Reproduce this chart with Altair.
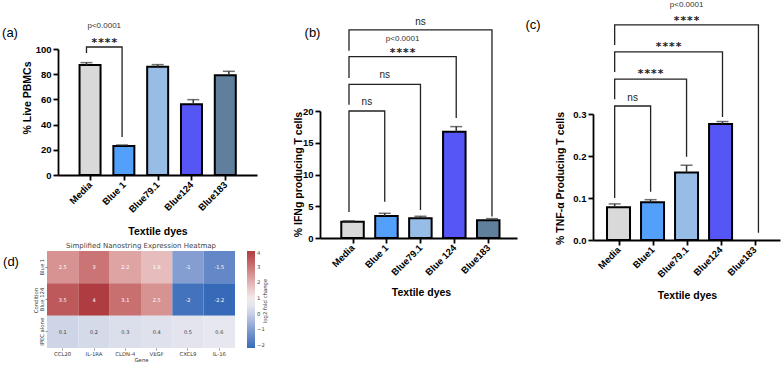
import json
import altair as alt
import pandas as pd

SANS = "Liberation Sans"
MONO = "DejaVu Sans Mono"
HEAT_FONT = "DejaVu Sans"
CANVAS_W, CANVAS_H = 784, 365

# ---------------- data ----------------
bar_colors = ["#d9d9d9", "#52a0fa", "#97bde6", "#5656f6", "#5f7f9c"]

# (a) viability
dyes_a = ["Media", "Blue 1", "Blue79.1", "Blue124", "Blue183"]
live_mean = [87.3, 23.0, 86.0, 56.1, 79.1]
live_sem = [1.9, 0.9, 1.6, 3.7, 3.2]
cmp_a_target = [1]
cmp_a_label = ["****"]
cmp_a_top = [101.6]
cmp_a_left_end = [96.8]
cmp_a_right_end = [30.2]
cmp_a_label_y = [107.1]
pval_a = ("p<0.0001", 0, 118.3)

# (b) IFNg
dyes_b = ["Media", "Blue 1", "Blue79.1", "Blue 124", "Blue183"]
ifng_mean = [2.57, 3.46, 3.12, 16.74, 2.8]
ifng_sem = [0.12, 0.43, 0.30, 0.80, 0.25]
cmp_b_target = [1, 2, 3, 4]
cmp_b_label = ["ns", "ns", "****", "ns"]
cmp_b_top = [20.0, 24.2, 28.55, 32.76]
cmp_b_left_end = [4.1, 21.0, 25.2, 29.5]
cmp_b_right_end = [5.7, 4.4, 18.9, 3.4]
cmp_b_label_y = [21.4, 25.7, 29.6, 34.0]
pval_b = ("p<0.0001", 2, 31.3)

# (c) TNF-alpha
dyes_c = ["Media", "Blue1", "Blue79.1", "Blue124", "Blue183"]
tnf_mean = [0.078, 0.090, 0.161, 0.276, None]
tnf_sem = [0.008, 0.006, 0.017, 0.006, None]
cmp_c_target = [1, 2, 3, 4]
cmp_c_label = ["ns", "****", "****", "****"]
cmp_c_top = [0.319, 0.383, 0.448, 0.512]
cmp_c_left_end = [0.10, 0.335, 0.40, 0.464]
cmp_c_right_end = [0.115, 0.198, 0.293, 0.017]
cmp_c_label_y = [0.338, 0.402, 0.467, 0.529]
pval_c = ("p<0.0001", 3, 0.5595)

# (d) Nanostring log2 fold changes
genes = ["CCL20", "IL-1RA", "CLDN-4", "VEGF", "CXCL9", "IL-16"]
conditions = ["Blue 1", "Blue 124", "IPEC alone"]
fc_blue1 = [2.5, 3, 2.2, 1.8, -1, -1.5]
fc_blue124 = [3.5, 4, 3.1, 2.5, -2, -2.2]
fc_ipec = [0.1, 0.2, 0.3, 0.4, 0.5, 0.6]

heat_stops = [-2.2, -0.96, 0.28, 0.9, 1.52, 2.76, 4.0]
heat_colors = ["#366ab8", "#87a0d2", "#dadeeb", "#f2f0f2", "#eccdcd", "#d28282", "#af3c41"]

# ---------------- styling ----------------
AXIS_STYLE = dict(
    grid=False, domainColor="black", domainWidth=1.8, tickColor="black",
    tickWidth=1.8, tickSize=5, labelFont=SANS, labelFontSize=9.5,
    labelFontWeight="bold", labelColor="black", titleFont=SANS,
    titleFontSize=10.5, titleFontWeight="bold", titleColor="black",
)


def x_axis(names, axis_y, title_x, title_y):
    return alt.Axis(
        orient="bottom", offset=axis_y - CANVAS_H, values=list(range(len(names))),
        labelExpr=f"{json.dumps(names)}[datum.value]", labelAngle=-45,
        labelAlign="right", labelBaseline="middle", labelPadding=3,
        labelOverlap=False, labelFlush=False, title="Textile dyes",
        titleX=title_x, titleY=title_y - axis_y, titleAlign="center",
        titleBaseline="middle", titleAngle=0, **AXIS_STYLE,
    )


def y_axis(axis_x, values, fmt, title, title_x, title_y):
    return alt.Axis(
        orient="left", offset=-axis_x, values=values, format=fmt,
        labelPadding=2, labelOverlap=False, title=title,
        titleX=title_x - axis_x, titleY=title_y, titleAngle=270,
        titleAlign="center", titleBaseline="middle", **AXIS_STYLE,
    )


def bar_panel(names, means, sems, cmp, pval, xdom, xrng, ydom, yrng,
              yvals, yfmt, ytitle, ytitle_xy, xtitle_xy, bar_w):
    targets, labels, tops, left_ends, right_ends, label_ys = cmp
    df = pd.DataFrame({
        "pos": list(range(len(names))), "mean": means, "sem": sems,
        "color": bar_colors,
    })
    df["top"] = df["mean"] + df["sem"]

    rows = []
    for k, (t, top, le, re) in enumerate(zip(targets, tops, left_ends, right_ends)):
        for j, (p, v) in enumerate([(0, le), (0, top), (t, top), (t, re)]):
            rows.append({"b": k, "o": j, "pos": p, "val": v})
    br = pd.DataFrame(rows)

    lab = pd.DataFrame({
        "pos": [t / 2 for t in targets], "val": label_ys, "label": labels,
    })
    pv = pd.DataFrame({
        "pos": [targets[pval[1]] / 2], "val": [pval[2]], "label": [pval[0]],
    })

    xs = alt.Scale(domain=xdom, range=xrng, nice=False, zero=False)
    ys = alt.Scale(domain=ydom, range=yrng, nice=False, zero=False)

    def X():
        return alt.X("pos:Q", scale=xs, axis=None)

    def Y(f):
        return alt.Y(f"{f}:Q", scale=ys, axis=None)

    bars = alt.Chart(df).mark_bar(width=bar_w, stroke="black", strokeWidth=2).encode(
        x=alt.X("pos:Q", scale=xs, axis=x_axis(names, yrng[0], *xtitle_xy)),
        y=alt.Y("mean:Q", scale=ys, axis=y_axis(xrng[0], yvals, yfmt, ytitle, *ytitle_xy)),
        fill=alt.Fill("color:N", scale=None),
    )
    errs = alt.Chart(df).mark_rule(color="#333", strokeWidth=1.5).encode(
        x=X(), y=Y("mean"), y2="top:Q")
    caps = alt.Chart(df).mark_tick(orient="horizontal", size=12, thickness=1.5,
                                   color="#333").encode(x=X(), y=Y("top"))
    lines = alt.Chart(br).mark_line(color="#222", strokeWidth=1.3).encode(
        x=X(), y=Y("val"), detail="b:N", order="o:Q")
    stars = alt.Chart(lab).transform_filter(alt.datum.label == "****").mark_text(
        font=MONO, fontWeight="bold", fontSize=11, baseline="middle", dy=3,
        color="#222").encode(x=X(), y=Y("val"), text="label:N")
    ns = alt.Chart(lab).transform_filter(alt.datum.label == "ns").mark_text(
        font=SANS, fontSize=10, baseline="middle", color="#222").encode(
        x=X(), y=Y("val"), text="label:N")
    ptxt = alt.Chart(pv).mark_text(font=SANS, fontSize=8, baseline="middle",
                                   color="#333").encode(x=X(), y=Y("val"), text="label:N")
    return [bars, errs, caps, lines, stars, ns, ptxt]


panel_a = bar_panel(
    dyes_a, live_mean, live_sem,
    (cmp_a_target, cmp_a_label, cmp_a_top, cmp_a_left_end, cmp_a_right_end, cmp_a_label_y),
    pval_a, [-0.80, 4.79], [58, 257], [0, 100], [175, 49],
    [0, 20, 40, 60, 80, 100], "d", "% Live PBMCs", (27, 97.5), (157.5, 231), 21)

panel_b = bar_panel(
    dyes_b, ifng_mean, ifng_sem,
    (cmp_b_target, cmp_b_label, cmp_b_top, cmp_b_left_end, cmp_b_right_end, cmp_b_label_y),
    pval_b, [-0.811, 4.70], [320, 517], [0, 20], [238, 111],
    [0, 5, 10, 15, 20], "d", "% IFNg producing T cells", (298, 174), (421, 292), 22.5)

panel_c = bar_panel(
    dyes_c, tnf_mean, tnf_sem,
    (cmp_c_target, cmp_c_label, cmp_c_top, cmp_c_left_end, cmp_c_right_end, cmp_c_label_y),
    pval_c, [-0.603, 4.60], [593, 780], [0, 0.3], [240, 114],
    [0, 0.1, 0.2, 0.3], ".1f", "% TNF-\u03b1 Producing T cells", (560, 178), (687, 295), 23)

# ---------------- heatmap ----------------
heat_rows = []
for cond, vals in zip(conditions, [fc_blue1, fc_blue124, fc_ipec]):
    for g, v in zip(genes, vals):
        heat_rows.append({"gene": g, "cond": cond, "fc": v, "txt": f"{v:.2g}"})
heat_df = pd.DataFrame(heat_rows)

hx = alt.Scale(domain=genes, range=[47, 235], paddingInner=0, paddingOuter=0)
hy = alt.Scale(domain=conditions, range=[251, 348], paddingInner=0, paddingOuter=0)
HEAT_AXIS = dict(domain=False, grid=False, tickSize=2, tickColor="#444", tickWidth=0.6,
                 labelFont=HEAT_FONT, labelFontSize=5.3, labelColor="#333",
                 labelPadding=1, titleFont=HEAT_FONT, titleFontSize=5.3,
                 titleFontWeight="normal", titleColor="#333")

heat_rect = alt.Chart(heat_df).mark_rect().encode(
    x=alt.X("gene:N", scale=hx, sort=genes, axis=alt.Axis(
        orient="bottom", offset=348 - CANVAS_H, labelAngle=0, title="Gene",
        titleX=141, titleY=11, titleAlign="center", titleBaseline="middle",
        **HEAT_AXIS)),
    y=alt.Y("cond:N", scale=hy, sort=conditions, axis=alt.Axis(
        orient="left", offset=-47, labelAngle=-90, labelAlign="center",
        labelBaseline="bottom", title="Condition", titleX=-12, titleY=300,
        titleAngle=270, titleAlign="center", titleBaseline="middle",
        **HEAT_AXIS)),
    color=alt.Color("fc:Q", scale=alt.Scale(domain=heat_stops, range=heat_colors,
                                            interpolate="rgb"),
                    legend=alt.Legend(
                        orient="none", legendX=247, legendY=251, direction="vertical",
                        gradientLength=97, gradientThickness=8, title=None,
                        values=[-2, -1, 0, 1, 2, 3, 4], labelFont=HEAT_FONT,
                        labelFontSize=5.3, labelColor="#444", labelOffset=2,
                        gradientStrokeWidth=0, padding=0, labelOverlap=False)),
)
heat_text = alt.Chart(heat_df).mark_text(font=HEAT_FONT, fontSize=5).encode(
    x=alt.X("gene:N", scale=hx, sort=genes, axis=None),
    y=alt.Y("cond:N", scale=hy, sort=conditions, axis=None),
    text="txt:N",
    color=alt.when((alt.datum.fc >= 1.5) | (alt.datum.fc <= -0.5))
    .then(alt.value("white")).otherwise(alt.value("#3a3a3a")),
)


# ---------------- free labels ----------------
def note(text, x, y, size, font=SANS, color="black", angle=0):
    return alt.Chart().mark_text(text=text, font=font, fontSize=size, color=color,
                                 angle=angle, align="center", baseline="middle").encode(
        x=alt.value(x), y=alt.value(y))


notes = [
    note("(a)", 10, 33, 13),
    note("(b)", 312.5, 33, 13),
    note("(c)", 533, 25, 13),
    note("(d)", 11, 262, 13),
    note("Simplified Nanostring Expression Heatmap", 141, 246, 7, HEAT_FONT, "#444"),
    note("log2 fold change", 265, 301, 5.3, HEAT_FONT, "#333", 270),
]

chart = (
    alt.layer(*panel_a, *panel_b, *panel_c, heat_rect, heat_text, *notes)
    .resolve_scale(x="independent", y="independent", color="independent")
    .resolve_axis(x="independent", y="independent")
    .properties(width=CANVAS_W, height=CANVAS_H, padding=0,
                autosize=alt.AutoSizeParams(type="none"), background="white")
    .configure_view(strokeWidth=0)
)

chart.save("out.html", embed_options={"renderer": "svg", "actions": False})
